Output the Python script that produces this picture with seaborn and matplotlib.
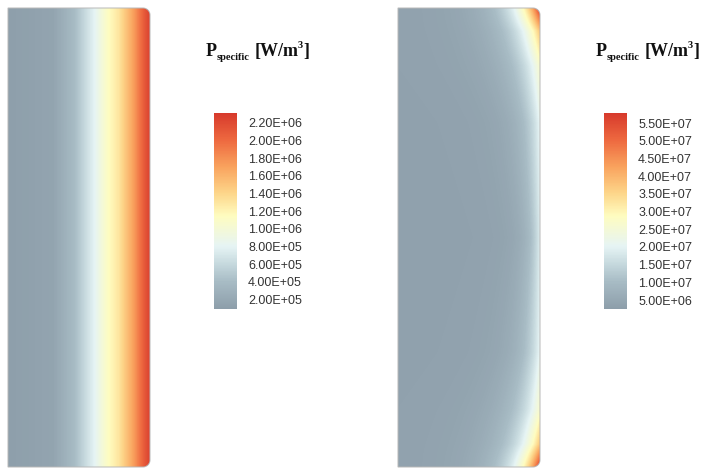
import numpy as np
import seaborn as sns
import matplotlib.pyplot as plt
from matplotlib.colors import LinearSegmentedColormap
from matplotlib.patches import Polygon

sns.set_style("white")
plt.rcParams["font.family"] = ["Liberation Sans", "DejaVu Sans"]

# colour scale (grey-blue -> white -> yellow -> red)
cmap_stops = [0.0, 0.14, 0.23, 0.32, 0.475, 0.59, 0.725, 0.86, 1.0]
cmap_colors = ["#8d9eaa", "#a8bcc5", "#c6d9de", "#e6f4f4", "#fefcc0",
               "#fdd68a", "#f9a35e", "#ee6a40", "#d73a2c"]

# left case: power density across the width (x as fraction of width)
left_xf = [0.0, 0.32, 0.47, 0.61, 0.70, 0.78, 0.88, 0.97, 1.0]
left_val = [1.0e5, 1.6e5, 4.0e5, 8.0e5, 1.12e6, 1.3e6, 1.7e6, 2.15e6, 2.25e6]
left_ticks = [2.0e5, 4.0e5, 6.0e5, 8.0e5, 1.0e6, 1.2e6, 1.4e6, 1.6e6, 1.8e6, 2.0e6, 2.2e6]
left_lim = (0.93e5, 2.31e6)

# right case: value along the right edge (|y| from middle to end) and decay depth
right_bg = 3.5e6
right_edge_y = [0.0, 0.5, 0.75, 0.9, 1.0]
right_edge_val = [1.9e7, 2.1e7, 2.7e7, 3.8e7, 5.8e7]
right_depth = [0.08, 0.12, 0.16, 0.165, 0.155]
right_ticks = [5.0e6, 1.0e7, 1.5e7, 2.0e7, 2.5e7, 3.0e7, 3.5e7, 4.0e7, 4.5e7, 5.0e7, 5.5e7]
right_lim = (2.46e6, 5.79e7)

W, H, R = 142, 459, 7
cmap = LinearSegmentedColormap.from_list("psp", list(zip(cmap_stops, cmap_colors)))

xf = (np.arange(W) + 0.5) / W
yr = np.abs((np.arange(H) + 0.5) / H * 2 - 1)
field_left = np.tile(np.interp(xf, left_xf, left_val), (H, 1))
edge = np.interp(yr, right_edge_y, right_edge_val)[:, None]
depth = np.interp(yr, right_edge_y, right_depth)[:, None]
field_right = right_bg + (edge - right_bg) * np.exp(-(1 - xf[None, :]) / depth)


def outline():
    a = np.linspace(-np.pi / 2, 0, 12)
    b = np.linspace(0, np.pi / 2, 12)
    pts = [(0, 0)]
    pts += list(zip(W - R + R * np.cos(a), R + R * np.sin(a)))
    pts += list(zip(W - R + R * np.cos(b), H - R + R * np.sin(b)))
    pts += [(0, H)]
    return pts


fig = plt.figure(figsize=(7.03, 4.69), dpi=100)
rend = fig.canvas.get_renderer()


def title(x, y):
    # P_specific [W/m^3] built from pieces: (text, size, dx, dy) in pixels
    pieces = [("P", 13, 0, 0), ("specific", 7.5, 0, 4.5), ("[W/m", 13, 5, 0),
              ("3", 7.5, -1, -8), ("]", 13, 0, 0)]
    for s, size, dx, dy in pieces:
        t = fig.text((x + dx) / 703, (469 - (y + dy)) / 469, s, fontsize=size,
                     family="Liberation Serif", weight="bold", va="baseline", color="#111111")
        x = t.get_window_extent(renderer=rend).x1


for x0, data, lim, ticks in [(8, field_left, left_lim, left_ticks),
                             (398, field_right, right_lim, right_ticks)]:
    ax = fig.add_axes([x0 / 703, 2 / 469, W / 703, H / 469])
    cax = fig.add_axes([(x0 + 206) / 703, (469 - 309) / 469, 23 / 703, 196 / 469])
    sns.heatmap(data, ax=ax, cmap=cmap, vmin=lim[0], vmax=lim[1],
                xticklabels=False, yticklabels=False, cbar_ax=cax,
                cbar_kws={"ticks": ticks, "format": "%.2E"})
    mesh = ax.collections[0]
    clip = Polygon(outline(), closed=True, transform=ax.transData, facecolor="none")
    mesh.set_clip_path(clip)
    ax.add_patch(Polygon(outline(), closed=True, fill=False, edgecolor="#b8b8b8",
                         lw=0.7, clip_on=False))
    ax.set_xlim(0, W)
    ax.set_ylim(H, 0)
    ax.axis("off")
    cb = mesh.colorbar
    cb.outline.set_visible(False)
    cb.ax.tick_params(length=0, pad=8, labelsize=9, labelcolor="#333333")
    title(x0 + 198, 56)

fig.savefig("out.png", dpi=100)
